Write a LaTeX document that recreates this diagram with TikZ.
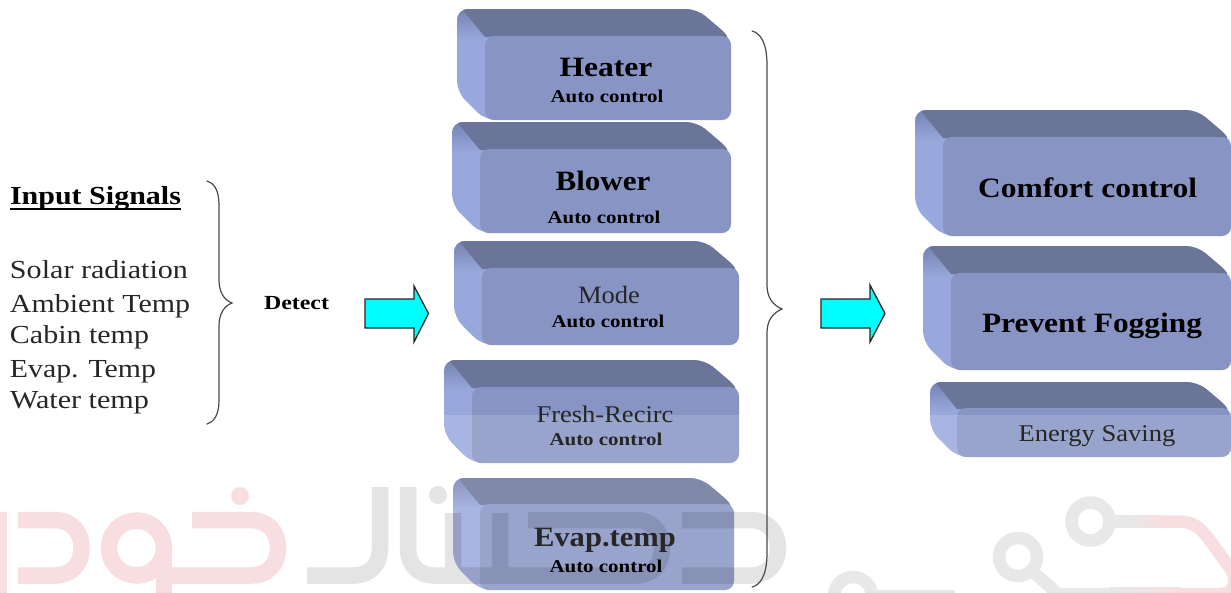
\documentclass[tikz,border=0pt]{standalone}
\usepackage{fontspec}
\usepackage{graphicx}
\setmainfont{Liberation Serif}
\usetikzlibrary{calc}
\definecolor{topface}{HTML}{6B7599}
\definecolor{leftface}{HTML}{99A8DC}
\definecolor{leftdark}{HTML}{7583B2}
\definecolor{frontface}{HTML}{8895C4}
\definecolor{wmpink}{HTML}{F7D9DC}
\definecolor{wmgrey}{HTML}{E5E5E5}
\definecolor{arrowcyan}{HTML}{00FFFF}
\definecolor{bracegrey}{HTML}{4A4A4A}
\tikzset{
  lbl/.style={anchor=base,inner sep=0pt,outer sep=0pt,text=black},
  softlbl/.style={lbl,text=black!85},
  braceline/.style={draw=bracegrey,line width=1.2pt,line cap=round},
  blockarrow/.style={draw=black!85,line width=1.3pt,fill=arrowcyan,line join=miter},
  wmpinkline/.style={draw=wmpink,line width=16.5pt},
  wmgreyline/.style={draw=black,draw opacity=.105,line width=16.5pt},
  wmcirc/.style={draw=wmgrey,line width=12.5pt}
}
% x0 y0 x1 y1 depth
\newcommand{\solidbox}[5]{%
  \begin{scope}
    \clip[rounded corners=11pt] (#1,#2) -- ({#3-#5-6},#2) -- (#3,{#2+#5+1}) -- (#3,#4) -- ({#1+#5},#4) -- (#1,{#4-#5}) -- cycle;
    \fill[leftface] (#1,#2) rectangle (#3,#4);
    \shade[top color=leftdark,bottom color=leftface] (#1,#2) rectangle ({#1+#5},{#2+#5+3});
    \fill[topface] ({#1+5},#2) -- ({#3-#5-6},#2) -- (#3,{#2+#5}) -- ({#1+#5},{#2+#5}) -- cycle;
  \end{scope}
  \fill[frontface,rounded corners=9pt] ({#1+#5},{#2+#5-1}) rectangle (#3,#4);
}
% name x y width size style text
\newcommand{\lab}[7]{%
  \node[#6] (#1) at (#2,#3) {\fontsize{#5pt}{#5pt}\selectfont\resizebox{#4pt}{\height}{#7}};
}
\begin{document}
\begin{tikzpicture}[x=1pt,y=-1pt]
\useasboundingbox (0,0) rectangle (1231,592);
\fill[white] (0,0) rectangle (1231,592);

% watermark, behind the boxes
\begin{scope}
\clip (0,0) rectangle (1231,592);
\draw[wmpinkline] (-1,512) -- (-1,600);
\draw[wmpinkline] (18,520) -- (54,520) .. controls (72,520) and (81.5,532) .. (81.5,548) .. controls (81.5,564) and (72,575.5) .. (54,575.5) -- (18,575.5);
\draw[wmpinkline] (136.5,548) circle[radius=27.5];
\draw[wmpinkline] (164,548) -- (164,600);
\draw[wmpinkline] (192,520) -- (250,520) .. controls (268,520) and (278,532) .. (278,548) .. controls (278,564) and (268,575.5) .. (250,575.5) -- (164,575.5);
\fill[wmpink] (240,496) circle[radius=9];
\draw[wmcirc] (1090.5,521.5) circle[radius=19];
\draw[wmcirc] (1018,557) circle[radius=19];
\draw[wmcirc] (853,596) circle[radius=19];
\draw[wmgrey,line width=12.5pt] (1109,521.5) -- (1132,521.5);
\shade[left color=wmgrey,right color=wmpink] (1132,515.2) rectangle (1162,527.8);
\draw[wmpink,line width=12.5pt] (1160,521.5) -- (1178,521.5) .. controls (1192,521.5) and (1200,527) .. (1208,538) -- (1230,568) .. controls (1238,580) and (1235,594) .. (1220,594) -- (1180,594);
\shade[left color=wmgrey,right color=wmpink] (1110,587.7) rectangle (1180,600);
\draw[wmgrey,line width=12.5pt] (1110,594) -- (1058,594) -- (1031,570);
\draw[wmgrey,line width=12.5pt] (871,596) -- (955,596);
\end{scope}

% boxes
\solidbox{457}{9}{731}{120}{28}
\solidbox{452}{122}{731}{233}{28}
\solidbox{454}{241}{739}{345}{28}
\solidbox{444}{360}{739}{463}{28}
\solidbox{453}{478}{734}{590}{27}
\solidbox{915}{110}{1231}{236}{28}
\solidbox{923}{246}{1231}{370}{28}
\solidbox{930}{382}{1231}{457}{27}

% band of the watermark layer over the picture
\fill[white,opacity=.15] (0,415) rectangle (1231,592);
\begin{scope}
\clip (0,0) rectangle (1231,592);
\draw[wmgreyline]
  (307,575.5) -- (353,575.5) .. controls (370,575.5) and (380,565) .. (380,548) -- (380,487)
  (408,487) -- (408,548) .. controls (408,565) and (418,575.5) .. (435,575.5) -- (635,575.5)
     .. controls (652,575.5) and (662,565) .. (662,548) .. controls (662,531) and (652,520) .. (635,520) -- (528,520)
  (453,513) -- (453,575.5)
  (500,513) -- (500,575.5)
  (682,520) -- (750,520) .. controls (768,520) and (778,532) .. (778,548) .. controls (778,564) and (768,575.5) .. (750,575.5) -- (682,575.5);
\fill[black,opacity=.105] (438,495) circle[radius=9];
\end{scope}

% left column
\lab{inputtitle}{95.5}{204}{171}{26}{lbl}{\textbf{Input Signals}}
\draw[black,line width=1.6pt] (inputtitle.base west) ++(0,5) -- ($(inputtitle.base east)+(0,5)$);
\lab{solar}{99}{278}{178}{26}{softlbl}{Solar radiation}
\lab{ambient}{100}{312}{180}{26}{softlbl}{Ambient Temp}
\lab{cabin}{79.5}{343}{139}{26}{softlbl}{Cabin temp}
\lab{evapt}{83}{377}{146}{26}{softlbl}{Evap. Temp}
\lab{water}{79.5}{408}{139}{26}{softlbl}{Water temp}
\lab{detect}{296.5}{309}{65}{20}{lbl}{\textbf{Detect}}

% braces
\draw[braceline] (207,181) .. controls (214,183) and (219,190) .. (219,205) -- (219,280) .. controls (219,292) and (224,300) .. (232,303) .. controls (224,306) and (219,314) .. (219,326) -- (219,400) .. controls (219,415) and (214,422) .. (207,424);
\draw[braceline] (752,31) .. controls (760,33) and (767,42) .. (767,65) -- (767,285) .. controls (767,298) and (773,305) .. (782,309) .. controls (773,313) and (767,320) .. (767,333) -- (767,553) .. controls (767,576) and (760,585) .. (752,587);

% block arrows
\draw[blockarrow] (365,299) -- (414,299) -- (414,286) -- (428.5,313.5) -- (414,342) -- (414,328) -- (365,328) -- cycle;
\draw[blockarrow] (821,299) -- (870,299) -- (870,285) -- (885,313.5) -- (870,342) -- (870,328) -- (821,328) -- cycle;

% box labels
\lab{heater}{606}{76}{93}{28}{lbl}{\textbf{Heater}}
\lab{heatera}{607}{102}{113}{18}{lbl}{\textbf{Auto control}}
\lab{blower}{603}{190}{95}{28}{lbl}{\textbf{Blower}}
\lab{blowera}{604}{223}{113}{18}{lbl}{\textbf{Auto control}}
\lab{mode}{609}{303}{62}{25}{softlbl}{Mode}
\lab{modea}{608}{327}{113}{18}{lbl}{\textbf{Auto control}}
\lab{fresh}{605}{422}{137}{24}{softlbl}{Fresh-Recirc}
\lab{fresha}{606}{445}{113}{18}{softlbl}{\textbf{Auto control}}
\lab{evap}{605}{546}{142}{28}{softlbl}{\textbf{Evap.temp}}
\lab{evapa}{606}{572}{113}{18}{lbl}{\textbf{Auto control}}
\lab{comfort}{1087.5}{197}{219}{28}{lbl}{\textbf{Comfort control}}
\lab{fog}{1092}{332}{220}{28}{lbl}{\textbf{Prevent Fogging}}
\lab{energy}{1097}{441}{157}{24}{softlbl}{Energy Saving}
\end{tikzpicture}
\end{document}
